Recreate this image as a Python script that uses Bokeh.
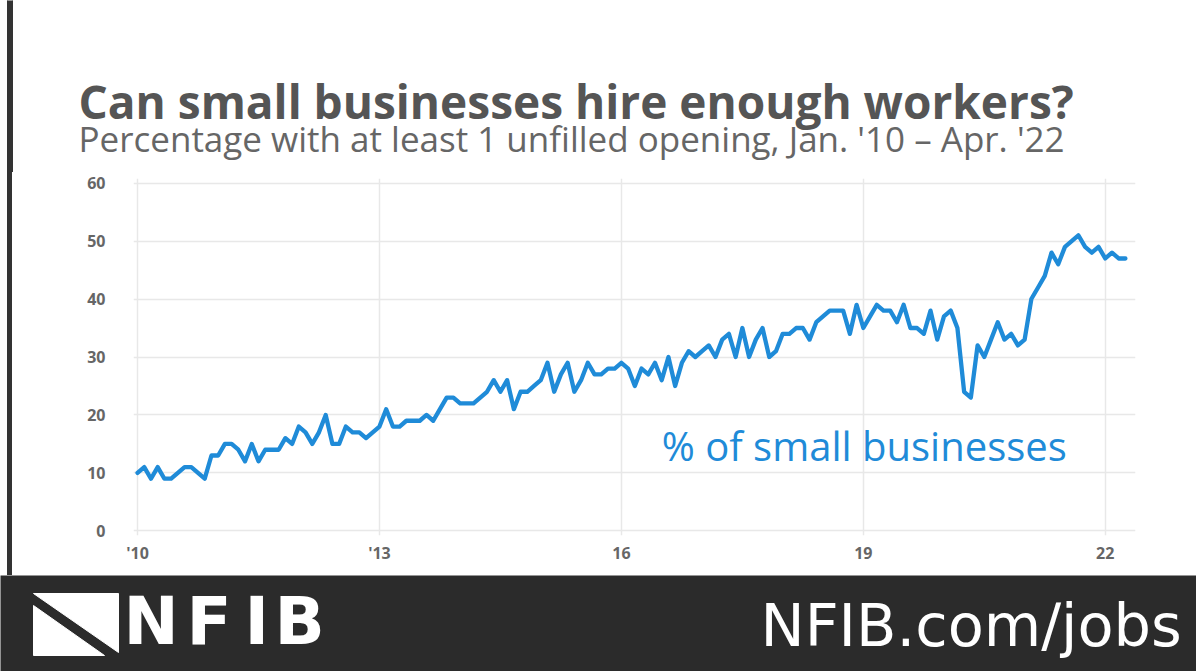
from bokeh.plotting import figure
from bokeh.layouts import column, row
from bokeh.models import Range1d, FixedTicker, Label, ColumnDataSource, Spacer
from bokeh.core.properties import value
from bokeh.embed import file_html
from bokeh.resources import INLINE

# ---- data: % of small businesses with at least 1 unfilled opening, monthly Jan 2010 - Apr 2022
v2010 = [10, 11, 9, 11, 9, 9, 10, 11, 11, 10, 9, 13]
v2011 = [13, 15, 15, 14, 12, 15, 12, 14, 14, 14, 16, 15]
v2012 = [18, 17, 15, 17, 20, 15, 15, 18, 17, 17, 16, 17]
v2013 = [18, 21, 18, 18, 19, 19, 19, 20, 19, 21, 23, 23]
v2014 = [22, 22, 22, 23, 24, 26, 24, 26, 21, 24, 24, 25]
v2015 = [26, 29, 24, 27, 29, 24, 26, 29, 27, 27, 28, 28]
v2016 = [29, 28, 25, 28, 27, 29, 26, 30, 25, 29, 31, 30]
v2017 = [31, 32, 30, 33, 34, 30, 35, 30, 33, 35, 30, 31]
v2018 = [34, 34, 35, 35, 33, 36, 37, 38, 38, 38, 34, 39]
v2019 = [35, 37, 39, 38, 38, 36, 39, 35, 35, 34, 38, 33]
v2020 = [37, 38, 35, 24, 23, 32, 30, 33, 36, 33, 34, 32]
v2021 = [33, 40, 42, 44, 48, 46, 49, 50, 51, 49, 48, 49]
v2022 = [47, 48, 47, 47]

tick_months = [0, 36, 72, 108, 144]          # months since Jan 2010
tick_labels = ["'10", "'13", "16", "19", "22"]
y_ticks = [0, 10, 20, 30, 40, 50, 60]

title_text = "Can small businesses hire enough workers?"
subtitle_text = "Percentage with at least 1 unfilled opening, Jan. '10 \u2013  Apr. '22"
series_label = "% of small businesses"

pct = (v2010 + v2011 + v2012 + v2013 + v2014 + v2015 + v2016 + v2017 +
       v2018 + v2019 + v2020 + v2021 + v2022)
months = list(range(len(pct)))
src = ColumnDataSource(dict(month=months, pct=pct))

BLUE = "#1f8bd8"
DARK = "#2b2b2b"
BAR = "#333333"
W = 1196


def blank(width, height, bg="white"):
    f = figure(width=width, height=height, x_range=Range1d(0, width),
               y_range=Range1d(height, 0), output_backend="svg",
               toolbar_location=None, x_axis_location=None, y_axis_location=None,
               min_border=0, min_border_left=0, min_border_right=0,
               min_border_top=0, min_border_bottom=0)
    f.grid.visible = False
    f.outline_line_color = None
    f.background_fill_color = bg
    f.border_fill_color = bg
    return f

# ---- header
HEADER_H = 172
head = blank(W, HEADER_H)
head.quad(left=[7], right=[12], top=[-10], bottom=[HEADER_H + 10], color=BAR)
head.text(x=[78], y=[100], text=[title_text], text_font=value("Open Sans"),
          text_font_size="46px", text_font_style="bold", text_color="#555555",
          text_baseline="alphabetic", text_align="left")
head.text(x=[78], y=[138], text=[subtitle_text], text_font=value("Open Sans"),
          text_font_size="35px", text_color="#666666",
          text_baseline="alphabetic", text_align="left")

# ---- main chart
MAIN_H = 403
strip = Spacer(width=20, height=MAIN_H, styles={
    "background": "linear-gradient(to right, #ffffff 0px, #ffffff 7px, "
                  + BAR + " 7px, " + BAR + " 12px, #ffffff 12px, #ffffff 20px)"})

p = figure(width=W - 20, height=MAIN_H, output_backend="svg", toolbar_location=None,
           x_range=Range1d(-0.6, 148.5), y_range=Range1d(-0.8, 60.8),
           min_border_left=113, min_border_right=61, min_border_top=6,
           min_border_bottom=40)
p.outline_line_color = None
p.background_fill_color = "white"
p.border_fill_color = "white"

p.line("month", "pct", source=src, line_color=BLUE, line_width=4.3,
       line_join="round", line_cap="round")

p.xaxis.ticker = FixedTicker(ticks=tick_months)
p.xaxis.major_label_overrides = {m: l for m, l in zip(tick_months, tick_labels)}
p.yaxis.ticker = FixedTicker(ticks=y_ticks)
p.xgrid.ticker = FixedTicker(ticks=tick_months)
p.ygrid.ticker = FixedTicker(ticks=y_ticks)
for g in (p.xgrid, p.ygrid):
    g.grid_line_color = "#e8e8e8"
    g.grid_line_width = 1.5
for ax in (p.xaxis, p.yaxis):
    ax.axis_line_color = None
    ax.major_tick_line_color = None
    ax.minor_tick_line_color = None
    ax.major_label_text_font = "Open Sans"
    ax.major_label_text_font_style = "bold"
    ax.major_label_text_font_size = "16px"
    ax.major_label_text_color = "#666666"
p.yaxis.major_label_standoff = 22
p.xaxis.major_label_standoff = 0

p.add_layout(Label(x=78, y=14.7, text=series_label, text_color=BLUE,
                   text_font="Open Sans", text_font_size="40px",
                   text_baseline="alphabetic", text_align="left"))

# ---- footer
FOOT_H = 96
foot = blank(W, FOOT_H, bg=DARK)
foot.patch(x=[33, 118, 118], y=[18, 18, 77], color="white")
foot.patch(x=[33, 33, 104], y=[30, 80, 80], color="white")
for ch, xx in zip(["N", "F", "I", "B"], [123, 186, 244, 274]):
    foot.text(x=[xx], y=[46], text=[ch], text_font=value("DejaVu Sans"),
              text_font_size="66px", text_font_style="bold", text_color="white",
              text_baseline="alphabetic", text_align="left")
foot.text(x=[760], y=[50], text=["NFIB.com/jobs"], text_font=value("DejaVu Sans"),
          text_font_size="59px", text_color="white",
          text_baseline="alphabetic", text_align="left")

layout = column(head, row(strip, p, spacing=0), foot, spacing=0)
open("out.html", "w").write(file_html(layout, INLINE))
